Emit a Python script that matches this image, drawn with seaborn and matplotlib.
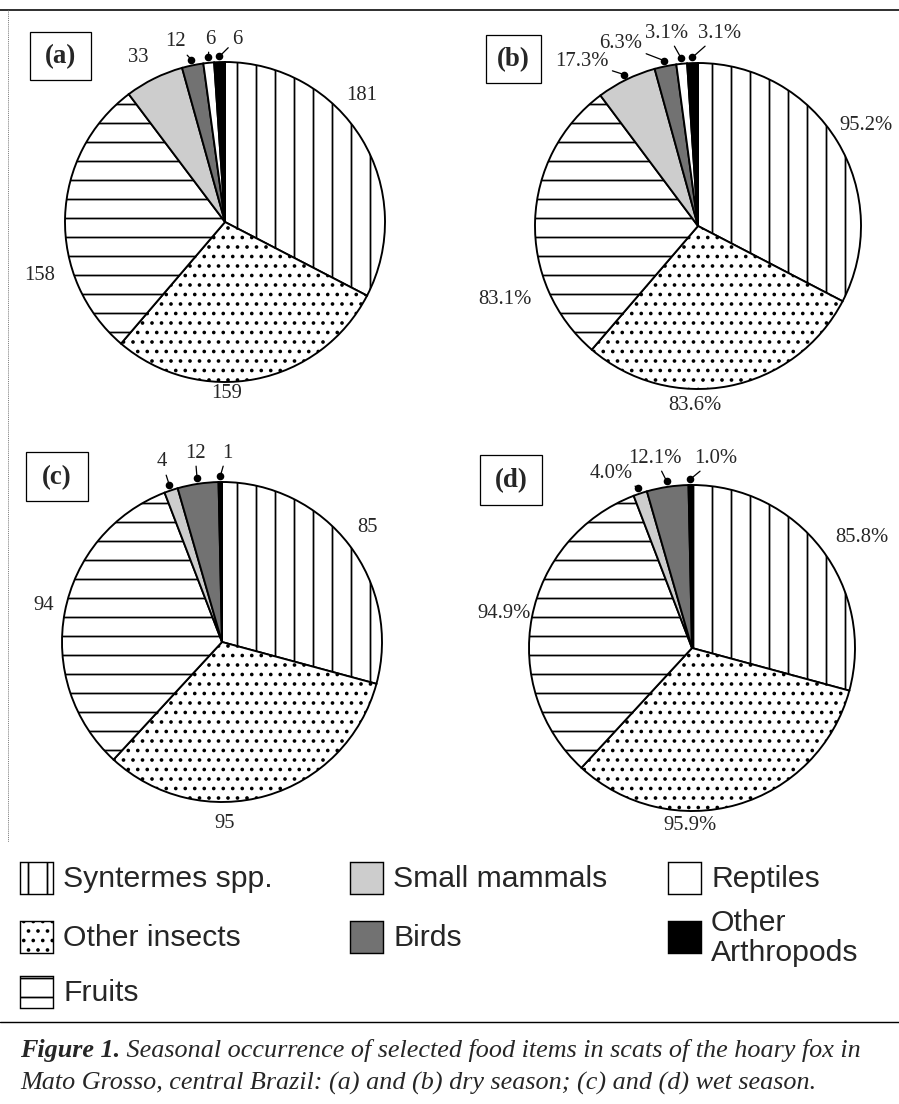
import matplotlib
matplotlib.use("Agg")
import matplotlib.pyplot as plt
from matplotlib.patches import Rectangle
import seaborn as sns
import numpy as np

# ---------------- data ----------------
categories = ["Syntermes spp.", "Other insects", "Fruits", "Small mammals",
              "Birds", "Reptiles", "Other\nArthropods"]
a_counts = [181, 159, 158, 33, 12, 6, 6]
b_percent = [95.2, 83.6, 83.1, 17.3, 6.3, 3.1, 3.1]
c_counts = [85, 95, 94, 4, 12, 0, 1]
d_percent = [85.8, 95.9, 94.9, 4.0, 12.1, 0, 1.0]
panel_tags = ["(a)", "(b)", "(c)", "(d)"]
caption_bold = "Figure 1."
caption_rest1 = " Seasonal occurrence of selected food items in scats of the hoary fox in"
caption_line2 = "Mato Grosso, central Brazil: (a) and (b) dry season; (c) and (d) wet season."

# ---------------- style ----------------
sns.set_theme(style="white")
plt.rcParams["font.family"] = ["Liberation Serif", "DejaVu Serif"]
plt.rcParams["hatch.linewidth"] = 1.1

DPI = 114
W, H = 899, 1104
fig = plt.figure(figsize=(W / DPI, H / DPI), dpi=DPI)
fig.patch.set_facecolor("white")

face = ["white", "white", "white", "#cdcdcd", "#727272", "white", "black"]
hatches = ["|", "..", "-", None, None, None, None]

# layout of each panel: centre (px), radius (px), tag box, label offsets (px from centre, y up)
layouts = [
    dict(vals=a_counts, fmt="{:g}", c=(225, 222), r=160, box=(30, 32, 61, 48),
         lab=[(137, 127), (2, -172), (-185, -53), (-87, 165), (-50, 180), (-15, 183), (12, 183)],
         lead=[False, False, False, False, True, True, True]),
    dict(vals=b_percent, fmt="{:.1f}%", c=(698, 226), r=163, box=(486, 35, 55, 48),
         lab=[(168, 101), (-3, -180), (-193, -74), (-116, 165), (-77, 182), (-31, 193), (22, 193)],
         lead=[False, False, False, True, True, True, True]),
    dict(vals=c_counts, fmt="{:g}", c=(222, 642), r=160, box=(26, 452, 62, 49),
         lab=[(145, 114), (3, -181), (-178, 37), (-60, 180), (-27, 189), None, (5, 189)],
         lead=[False, False, False, True, True, False, True]),
    dict(vals=d_percent, fmt="{:.1f}%", c=(692, 648), r=163, box=(480, 455, 62, 50),
         lab=[(170, 111), (-2, -178), (-188, 35), (-81, 175), (-37, 190), None, (24, 190)],
         lead=[False, False, False, True, True, False, True]),
]

LBL_FS = 13
L = 1.45
for k, lay in enumerate(layouts):
    cx, cy = lay["c"]
    r = lay["r"]
    ax = fig.add_axes([(cx - L * r) / W, 1 - (cy + L * r) / H, 2 * L * r / W, 2 * L * r / H])
    keep = [i for i, v in enumerate(lay["vals"]) if v > 0]
    vals = [lay["vals"][i] for i in keep]
    wedges, _ = ax.pie(vals, startangle=90, counterclock=False, radius=1.0,
                       colors=[face[i] for i in keep],
                       wedgeprops=dict(edgecolor="black", linewidth=1.2))
    for w, i in zip(wedges, keep):
        if hatches[i]:
            w.set_hatch(hatches[i])
    ax.set_xlim(-L, L)
    ax.set_ylim(-L, L)
    ax.set_aspect("equal")
    ax.axis("off")
    for w, i in zip(wedges, keep):
        txt = lay["fmt"].format(lay["vals"][i])
        dx, dy = lay["lab"][i]
        pos = (dx / r, dy / r)
        mid = np.deg2rad((w.theta1 + w.theta2) / 2)
        if lay["lead"][i]:
            dot = (1.035 * np.cos(mid), 1.035 * np.sin(mid))
            ax.plot([dot[0]], [dot[1]], "o", color="black", ms=3.8, clip_on=False, zorder=5)
            ax.annotate(txt, xy=dot, xytext=pos, ha="center", va="center",
                        fontsize=LBL_FS, annotation_clip=False,
                        arrowprops=dict(arrowstyle="-", lw=0.8, color="black",
                                        shrinkA=0, shrinkB=0))
        else:
            ax.text(pos[0], pos[1], txt, ha="center", va="center", fontsize=LBL_FS,
                    clip_on=False)

# ---------------- overlay: frames, tags, legend, caption ----------------
ov = fig.add_axes([0, 0, 1, 1], zorder=-1)
ov.set_xlim(0, W)
ov.set_ylim(H, 0)
ov.axis("off")

ov.plot([0, W], [10, 10], color="black", lw=1.0)
ov.plot([8, 8], [10, 842], color="#777777", lw=0.6, ls=(0, (1, 1)))
ov.plot([0, W], [1022, 1022], color="black", lw=0.9)

for tag, lay in zip(panel_tags, layouts):
    x0, y0, bw, bh = lay["box"]
    ov.add_patch(Rectangle((x0, y0), bw, bh, fill=False, edgecolor="black", lw=0.8))
    ov.text(x0 + bw / 2, y0 + bh / 2 + 1, tag, ha="center", va="center",
            fontsize=17, fontweight="bold")

# legend
leg_cols = [0, 0, 0, 1, 1, 2, 2]
leg_rows = [0, 1, 2, 0, 1, 0, 1]
col_x = [20, 350, 668]
row_y = [862, 921, 976]
PW, PH = 33, 32
for i, name in enumerate(categories):
    x = col_x[leg_cols[i]]
    y = row_y[leg_rows[i]]
    p = Rectangle((x, y), PW, PH, facecolor=face[i], edgecolor="black", lw=0.9,
                  hatch=hatches[i])
    ov.add_patch(p)
    ov.text(x + PW + 10, y + PH / 2 + 1, name, ha="left", va="center", fontsize=19,
            family=["Liberation Sans", "DejaVu Sans"], linespacing=1.05)

# caption
r_ = fig.canvas.get_renderer()
CFS = 16.5
t1 = ov.text(20, 1050, caption_bold, ha="left", va="center", fontsize=CFS,
             style="italic", fontweight="bold")
bb = t1.get_window_extent(r_)
t2 = ov.text(20 + bb.width, 1050, caption_rest1, ha="left", va="center", fontsize=CFS,
             style="italic")
ov.text(20, 1083, caption_line2, ha="left", va="center", fontsize=CFS, style="italic")

fig.savefig("out.png", dpi=DPI, facecolor="white")
